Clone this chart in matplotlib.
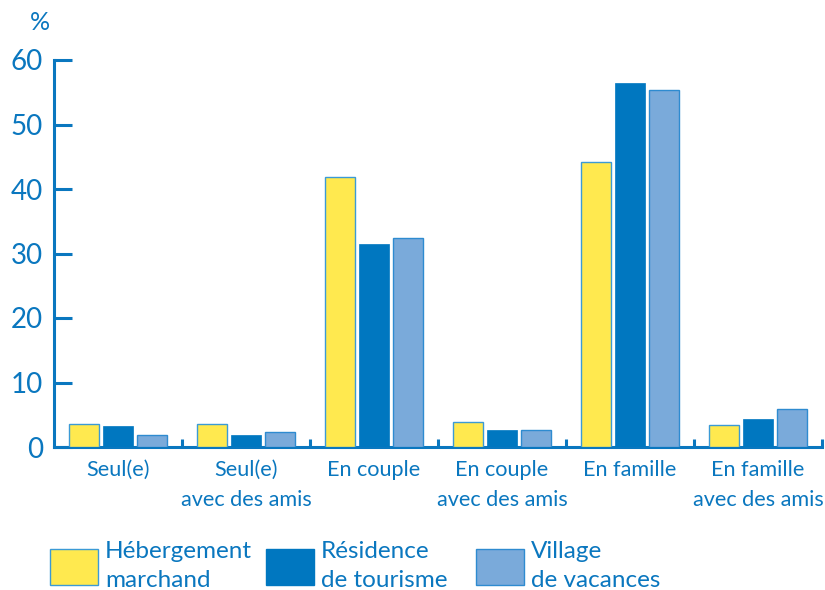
import numpy as np
import matplotlib
matplotlib.use("Agg")
import matplotlib.pyplot as plt
from matplotlib.patches import Rectangle

# Data (%)
categories = ["Seul(e)", "Seul(e)\navec des amis", "En couple",
              "En couple\navec des amis", "En famille", "En famille\navec des amis"]
hebergement = [3.6, 3.6, 41.9, 3.9, 44.2, 3.4]
residence = [3.3, 1.9, 31.5, 2.6, 56.4, 4.3]
village = [1.9, 2.3, 32.4, 2.6, 55.3, 5.9]
series_names = ["Hébergement\nmarchand", "Résidence\nde tourisme", "Village\nde vacances"]

blue = "#0a77bf"
yellow = "#ffe94f"
dark = "#0077c0"
light = "#7aaada"

plt.rcParams['font.family'] = ['Lato', 'DejaVu Sans']

fig = plt.figure(figsize=(8.25, 5.9), dpi=100)
ax = fig.add_axes([54 / 825, 1 - 447 / 590, (822 - 54) / 825, (447 - 60) / 590])

x = np.arange(len(categories)) + 0.5
w = 0.235
step = 0.265
ax.bar(x - step, hebergement, w, color=yellow, edgecolor="#3b9ad6", linewidth=1.0, zorder=3)
ax.bar(x, residence, w, color=dark, edgecolor=dark, linewidth=0.5, zorder=3)
ax.bar(x + step, village, w, color=light, edgecolor="#2e8bd0", linewidth=1.0, zorder=3)

ax.set_xlim(0, len(categories))
ax.set_ylim(0, 60)

for s in ["top", "right"]:
    ax.spines[s].set_visible(False)
ax.spines["left"].set_color(blue)
ax.spines["bottom"].set_color(blue)
ax.spines["left"].set_linewidth(2.2)
ax.spines["bottom"].set_linewidth(2.2)

ax.set_yticks(np.arange(0, 61, 10))
ax.tick_params(axis="y", direction="in", length=13, width=2.2, color=blue,
               labelcolor=blue, labelsize=20, pad=8)

# category boundary ticks, labels at centers
ax.set_xticks(np.arange(1, len(categories) + 1))
ax.set_xticklabels([])
ax.tick_params(axis="x", direction="in", length=6, width=2.2, color=blue)
ax.set_xticks(x, minor=True)
ax.set_xticklabels(categories, minor=True)
ax.tick_params(axis="x", which="minor", length=0, labelcolor=blue, labelsize=15.6, pad=9)
for lab in ax.get_xticklabels(minor=True):
    lab.set_linespacing(1.65)

fig.text(40 / 825, 1 - 22 / 590, "%", color=blue, fontsize=18, ha="center", va="center")

# legend
colors = [yellow, dark, light]
edges = ["#3b9ad6", dark, "#2e8bd0"]
lx = [50, 266, 476]
for i in range(3):
    fig.patches.append(Rectangle((lx[i] / 825, 1 - 585 / 590), 48 / 825, 36 / 590,
                                 transform=fig.transFigure, facecolor=colors[i],
                                 edgecolor=edges[i], linewidth=1.0))
    fig.text((lx[i] + 55) / 825, 1 - 566 / 590, series_names[i], color=blue,
             fontsize=17.5, ha="left", va="center", linespacing=1.42)

fig.savefig("out.png", dpi=100)
